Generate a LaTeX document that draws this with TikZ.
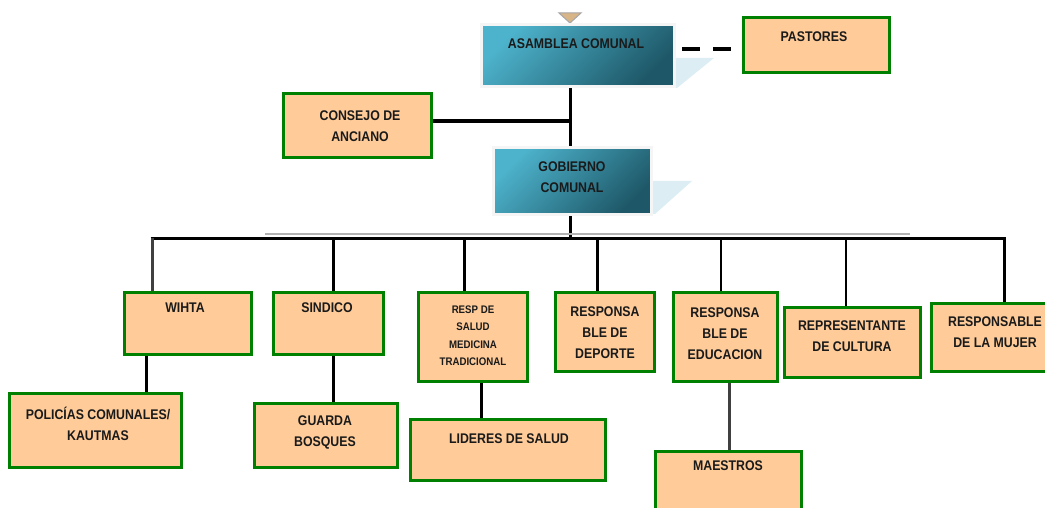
\documentclass[tikz,border=0pt]{standalone}
\usepackage{fontspec}
\setmainfont{Liberation Sans}
\newfontfamily\cond[FakeStretch=0.88]{Liberation Sans}
\usetikzlibrary{calc}
\definecolor{peach}{HTML}{FFCC99}
\definecolor{gborder}{HTML}{008000}
\definecolor{tealA}{HTML}{4DB3CC}
\definecolor{tealB}{HTML}{1E5868}
\definecolor{shadowblue}{HTML}{DCEEF4}
\definecolor{tanc}{HTML}{D8B587}
\definecolor{txt}{HTML}{1A1A1A}
\begin{document}
\begin{tikzpicture}[x=1pt,y=-1pt,
  pbox/.style={draw=gborder, fill=peach, line width=3pt, inner sep=0pt},
  tbox/.style={draw=gray!8, line width=3pt, top color=tealA, bottom color=tealB, shading angle=45, inner sep=0pt},
  lbl/.style={font=\cond\bfseries\fontsize{14}{21}\selectfont, text=txt, inner sep=0pt, align=center},
  sml/.style={font=\cond\bfseries\fontsize{11}{17.5}\selectfont, text=txt, inner sep=0pt, align=center},
  conn/.style={line width=3pt, black},
  thin/.style={line width=2pt, black},
  grayconn/.style={line width=3pt, black!75}]
\clip (0,0) rectangle (1045,508);
\fill[white] (0,0) rectangle (1045,508);

% decorative shadows
\fill[shadowblue] (675,58) -- (714,58) -- (677,88) -- (675,88) -- cycle;
\fill[shadowblue] (650,181) -- (692,181) -- (655,214) -- (650,214) -- cycle;
\filldraw[fill=tanc, draw=gray!70, line width=1pt] (559,13) -- (581,13) -- (570,23) -- cycle;

% boxes
\node[tbox, minimum width=193pt, minimum height=62pt] (asam) at (578,55.5) {};
\node[pbox, minimum width=146pt, minimum height=55pt] (past) at (816.5,45) {};
\node[pbox, minimum width=148pt, minimum height=64pt] (cons) at (357.5,125.5) {};
\node[tbox, minimum width=158pt, minimum height=67pt] (gob) at (572.5,181) {};
\node[pbox, minimum width=127pt, minimum height=62pt] (wiita) at (188,323.5) {};
\node[pbox, minimum width=110pt, minimum height=62pt] (sind) at (328.5,323.5) {};
\node[pbox, minimum width=109pt, minimum height=89pt] (resp) at (473,337) {};
\node[pbox, minimum width=99pt, minimum height=79pt] (dep) at (605,332) {};
\node[pbox, minimum width=104pt, minimum height=89pt] (edu) at (725.5,337) {};
\node[pbox, minimum width=136pt, minimum height=70pt] (cul) at (852.5,342.5) {};
\node[pbox, minimum width=129pt, minimum height=68pt] (muj) at (996,337.5) {};
\node[pbox, minimum width=172pt, minimum height=74pt] (pol) at (95.5,430.5) {};
\node[pbox, minimum width=143pt, minimum height=64pt] (gua) at (326,435.5) {};
\node[pbox, minimum width=195pt, minimum height=61pt] (lid) at (508,450) {};
\node[pbox, minimum width=146pt, minimum height=78pt] (mae) at (728.5,490) {};

% texts
\node[lbl] (asamT) at (576,44) {ASAMBLEA COMUNAL};
\node[lbl] (pastT) at (814,37) {PASTORES};
\node[lbl] (consT) at (360,126.5) {CONSEJO DE\\ANCIANO};
\node[lbl] (gobT) at (572,177.5) {GOBIERNO\\COMUNAL};
\node[lbl] (wiitaT) at (185,308) {WIHTA};
\node[lbl] (sindT) at (327,308) {SINDICO};
\node[sml] (respT) at (473,335.5) {RESP DE\\SALUD\\MEDICINA\\TRADICIONAL};
\node[lbl] (depT) at (605,332.5) {RESPONSA\\BLE DE\\DEPORTE};
\node[lbl] (eduT) at (725,333.5) {RESPONSA\\BLE DE\\EDUCACION};
\node[lbl] (culT) at (852,336) {REPRESENTANTE\\DE CULTURA};
\node[lbl] (mujT) at (995,332.5) {RESPONSABLE\\DE LA MUJER};
\node[lbl] (polT) at (98,424) {POLICÍAS COMUNALES/\\KAUTMAS};
\node[lbl] (guaT) at (325,432) {GUARDA\\BOSQUES};
\node[lbl] (lidT) at (509,439) {LIDERES DE SALUD};
\node[lbl] (maeT) at (728,466) {MAESTROS};

% connector coordinates
\coordinate (spine) at (570,0);
\coordinate (dy) at (0,49);
\coordinate (cy) at (0,121);
\coordinate (d1) at (152,238);
\coordinate (d2) at (333,238);
\coordinate (d3) at (464,238);
\coordinate (d4) at (597,238);
\coordinate (d5) at (721,238);
\coordinate (d6) at (846,238);
\coordinate (d7) at (1004,238);
\coordinate (e1) at (146,0);
\coordinate (e2) at (333,0);
\coordinate (e3) at (481,0);
\coordinate (e4) at (729,0);

% connectors
\draw[line width=4pt, dash pattern=on 18pt off 13pt] ([xshift=6pt]asam.east |- dy) -- ([xshift=-10pt]past.west |- dy);
\draw[conn] (asam.south -| spine) -- (gob.north -| spine);
\draw[line width=4pt] (cons.east |- cy) -- (spine |- cy);
\draw[conn] (gob.south -| spine) -- (spine |- d1);
\draw[line width=2pt, black!30] (265,234) -- (910,234);
\draw[conn] ([xshift=-1.5pt]d1) -- ([xshift=1.5pt]d7);
\draw[grayconn] (d1) -- (d1 |- wiita.north);
\draw[conn] (d2) -- (d2 |- sind.north);
\draw[conn] (d3) -- (d3 |- resp.north);
\draw[conn] (d4) -- (d4 |- dep.north);
\draw[thin] (d5) -- (d5 |- edu.north);
\draw[thin] (d6) -- (d6 |- cul.north);
\draw[conn] ([xshift=0pt]d7) -- (d7 |- muj.north);
\draw[conn] (wiita.south -| e1) -- (pol.north -| e1);
\draw[conn] (sind.south -| e2) -- (gua.north -| e2);
\draw[conn] (resp.south -| e3) -- (lid.north -| e3);
\draw[grayconn] (edu.south -| e4) -- (mae.north -| e4);
\end{tikzpicture}
\end{document}
